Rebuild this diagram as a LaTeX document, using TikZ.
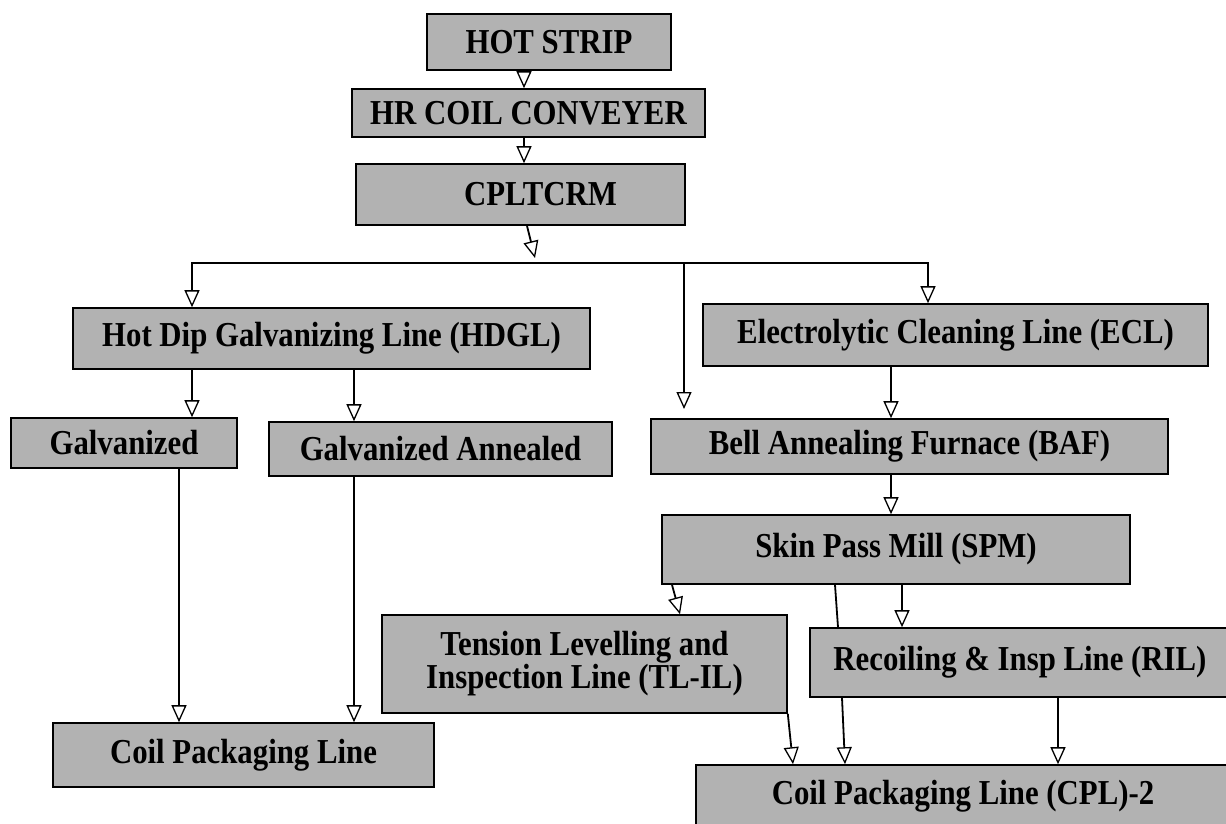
\documentclass[tikz,border=0pt]{standalone}
\usepackage{fontspec}
\setmainfont{Liberation Serif}
\newfontfamily\boxfont{Liberation Serif}[FakeStretch=0.88]
\usetikzlibrary{arrows.meta}
\definecolor{boxgray}{RGB}{178,178,178}
\tikzset{
  box/.style={draw=black, line width=1.6pt, fill=boxgray, inner sep=0pt,
    font=\boxfont\bfseries\fontsize{35}{33}\selectfont, align=center},
  ln/.style={line width=1.8pt},
  arr/.style={line width=1.8pt, -{Triangle[open, length=17pt, width=15pt, line width=1.3pt]}},
}
\begin{document}
\begin{tikzpicture}[x=1pt,y=-1pt]
\useasboundingbox (0,0) rectangle (1226,823);
% boxes
\node[box, minimum width=244pt, minimum height=56pt] (hot) at (549,42) {HOT STRIP};
\node[box, minimum width=353pt, minimum height=48pt] (hr) at (528.5,113) {HR COIL CONVEYER};
\node[box, minimum width=329pt, minimum height=61pt] (cplt) at (520.5,194.5) {\hspace*{40pt}CPLTCRM};
\node[box, minimum width=517pt, minimum height=61pt] (hdgl) at (331.5,338.5) {Hot Dip Galvanizing Line (HDGL)};
\node[box, minimum width=505pt, minimum height=62pt] (ecl) at (955.5,335) {Electrolytic Cleaning Line (ECL)};
\node[box, minimum width=226pt, minimum height=50pt] (galv) at (124,443) {Galvanized};
\node[box, minimum width=343pt, minimum height=54pt] (ga) at (440.5,449) {Galvanized Annealed};
\node[box, minimum width=517pt, minimum height=55pt] (baf) at (909.5,446.5) {Bell Annealing Furnace (BAF)};
\node[box, minimum width=468pt, minimum height=69pt] (spm) at (896,549.5) {Skin Pass Mill (SPM)};
\node[box, minimum width=405pt, minimum height=98pt] (tlil) at (584.5,664) {Tension Levelling and\\Inspection Line (TL-IL)};
\node[box, minimum width=420pt, minimum height=69pt] (ril) at (1020,662.5) {Recoiling \& Insp Line (RIL)};
\node[box, minimum width=381pt, minimum height=64pt] (cpl) at (243.5,755) {Coil Packaging Line};
\node[box, minimum width=534pt, minimum height=62pt] (cpl2) at (963,796) {Coil Packaging Line (CPL)-2};
% column coordinates
\coordinate (x524) at (524,0);
\coordinate (x527) at (527,0);
\coordinate (hit) at (535,258);
\coordinate (tL) at (192,263);
\coordinate (tM) at (684,263);
\coordinate (tR) at (928,263);
\coordinate (fr) at (684,409);
\coordinate (x192) at (192,0);
\coordinate (x354) at (354,0);
\coordinate (x179) at (179,0);
\coordinate (x891) at (891,0);
\coordinate (x672) at (672,0);
\coordinate (x680) at (680,0);
\coordinate (x835) at (835,0);
\coordinate (x838) at (838,0);
\coordinate (x902) at (902,0);
\coordinate (x793) at (793,0);
\coordinate (x842) at (842,0);
\coordinate (x845) at (845,0);
\coordinate (x1058) at (1058,0);
% connectors
\draw[arr] (hot.south -| x524) -- (hr.north -| x524);
\draw[arr] (hr.south -| x524) -- (cplt.north -| x524);
\draw[arr] (cplt.south -| x527) -- (hit);
\draw[arr] (tM) -- (tL) -- (hdgl.north -| tL);
\draw[arr] (tM) -- (tR) -- (ecl.north -| tR);
\draw[arr] (tM) -- (fr);
\draw[arr] (hdgl.south -| x192) -- (galv.north -| x192);
\draw[arr] (hdgl.south -| x354) -- (ga.north -| x354);
\draw[arr] (galv.south -| x179) -- (cpl.north -| x179);
\draw[arr] (ga.south -| x354) -- (cpl.north -| x354);
\draw[arr] (ecl.south -| x891) -- (baf.north -| x891);
\draw[arr] (baf.south -| x891) -- (spm.north -| x891);
\draw[arr] (spm.south -| x672) -- (tlil.north -| x680);
\draw[ln] (spm.south -| x835) -- (ril.north -| x838);
\draw[arr] (spm.south -| x902) -- (ril.north -| x902);
\draw[arr] (tlil.south east) -- (cpl2.north -| x793);
\draw[arr] (ril.south -| x842) -- (cpl2.north -| x845);
\draw[arr] (ril.south -| x1058) -- (cpl2.north -| x1058);
\end{tikzpicture}
\end{document}
